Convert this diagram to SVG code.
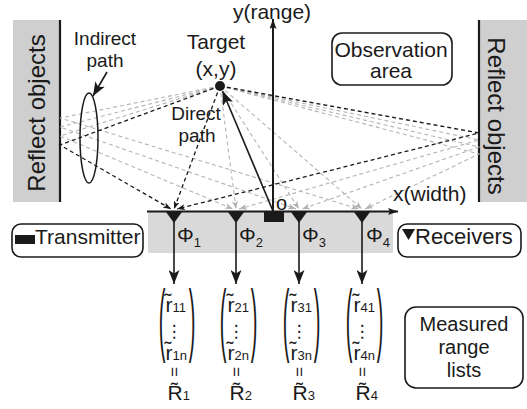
<svg xmlns="http://www.w3.org/2000/svg" width="527" height="409" viewBox="0 0 527 409">
  <defs>
    <style>
      text { font-family: "Liberation Sans", Arial, sans-serif; fill: #1a1a1a; }
      .t21 { font-size: 21px; }
      .t20 { font-size: 20px; }
      .t19 { font-size: 19px; }
      .mid { text-anchor: middle; }
      .sub { font-size: 13px; }
      .box { fill: #ffffff; stroke: #1a1a1a; stroke-width: 1.6; }
      .wall { fill: #cfcfcf; }
      .wline { stroke: #1a1a1a; stroke-width: 2.2; fill: none; }
      .dk { fill: none; stroke: #1a1a1a; stroke-width: 1.3; stroke-dasharray: 4 3; marker-end: url(#ahDark); }
      .gr { fill: none; stroke: #b4b4b4; stroke-width: 1.1; stroke-dasharray: 4 3; marker-end: url(#ahGrey); }
      .solid { fill: none; stroke: #1a1a1a; stroke-width: 1.6; }
      .paren { font-size: 20px; text-anchor: middle; }
      .col { font-size: 21px; }
      .dt { font-family: "DejaVu Sans", sans-serif; font-size: 17px; text-anchor: middle; }
      .eq { font-size: 17px; text-anchor: middle; }
    </style>
    <marker id="ahDark" viewBox="0 0 8 6" refX="8" refY="3" markerWidth="8" markerHeight="6" markerUnits="userSpaceOnUse" orient="auto">
      <path d="M0,0 L8,3 L0,6 L2,3 z" fill="#1a1a1a"/>
    </marker>
    <marker id="ahGrey" viewBox="0 0 8 6" refX="8" refY="3" markerWidth="8" markerHeight="6" markerUnits="userSpaceOnUse" orient="auto">
      <path d="M0,0 L8,3 L0,6 L2,3 z" fill="#b4b4b4"/>
    </marker>
    <marker id="ahBig" viewBox="0 0 14 11" refX="14" refY="5.5" markerWidth="14" markerHeight="11" markerUnits="userSpaceOnUse" orient="auto">
      <path d="M0,0 L14,5.5 L0,11 L3.5,5.5 z" fill="#1a1a1a"/>
    </marker>
    <marker id="ahAxis" viewBox="0 0 10 7" refX="10" refY="3.5" markerWidth="10" markerHeight="7" markerUnits="userSpaceOnUse" orient="auto">
      <path d="M0,0 L10,3.5 L0,7 L2,3.5 z" fill="#1a1a1a"/>
    </marker>
  </defs>

  <rect width="527" height="409" fill="#ffffff"/>

  <!-- reflecting walls -->
  <g id="wall-left">
    <rect class="wall" x="13" y="20" width="47" height="182"/>
    <line class="wline" x1="60" y1="20" x2="60" y2="202"/>
    <text class="mid" font-size="24" transform="translate(45,113) rotate(-90)">Reflect objects</text>
  </g>
  <g id="wall-right">
    <rect class="wall" x="479" y="20" width="48" height="182"/>
    <line class="wline" x1="479" y1="20" x2="479" y2="202"/>
    <text class="mid" font-size="24" transform="translate(488,116) rotate(90)">Reflect objects</text>
  </g>

  <!-- sensor array band -->
  <g id="array-band">
    <rect x="148" y="212" width="245" height="41" fill="#d9d9d9"/>
  </g>

  <!-- propagation paths and axes -->
  <g id="connectors">
    <!-- receivers 2..4 (grey) -->
    <polyline class="gr" points="220,86 236,209"/>
    <polyline class="gr" points="220,86 60,136 233,209"/>
    <polyline class="gr" points="220,86 479,140 239,209"/>
    <polyline class="gr" points="220,86 299,209"/>
    <polyline class="gr" points="220,86 60,127 296,209"/>
    <polyline class="gr" points="220,86 479,147 302,209"/>
    <polyline class="gr" points="220,86 362,209"/>
    <polyline class="gr" points="220,86 60,118 359,209"/>
    <polyline class="gr" points="220,86 479,154 365,209"/>
    <!-- receiver 1 (black) -->
    <polyline class="dk" points="220,86 174,209"/>
    <polyline class="dk" points="220,86 60,145 171,209"/>
    <polyline class="dk" points="220,86 479,133 177,209"/>
    <!-- axes -->
    <line x1="273" y1="212" x2="273" y2="19" stroke="#1a1a1a" stroke-width="2" marker-end="url(#ahAxis)"/>
    <line x1="147" y1="211.5" x2="398" y2="211.5" stroke="#1a1a1a" stroke-width="2" marker-end="url(#ahAxis)"/>
    <!-- origin to target -->
    <line class="solid" x1="273" y1="211" x2="222.5" y2="91" marker-end="url(#ahBig)"/>
    <!-- indirect path pointer -->
    <line class="solid" x1="107" y1="72" x2="93" y2="96" marker-end="url(#ahBig)"/>
    <!-- receiver outputs -->
    <line class="solid" x1="174" y1="213" x2="174" y2="284" marker-end="url(#ahBig)"/>
    <line class="solid" x1="236" y1="213" x2="236" y2="284" marker-end="url(#ahBig)"/>
    <line class="solid" x1="299" y1="213" x2="299" y2="284" marker-end="url(#ahBig)"/>
    <line class="solid" x1="362" y1="213" x2="362" y2="284" marker-end="url(#ahBig)"/>
  </g>

  <!-- axis labels -->
  <g id="axis-labels">
    <text class="t21 mid" x="272" y="19">y(range)</text>
    <text class="t21" x="393" y="201">x(width)</text>
    <text class="t20" x="276" y="210">o</text>
  </g>

  <!-- target -->
  <g id="target">
    <circle cx="220" cy="86" r="5" fill="#1a1a1a"/>
    <text class="t21 mid" x="216" y="49">Target</text>
    <text class="t21 mid" x="216" y="76">(x,y)</text>
  </g>

  <!-- path annotations -->
  <g id="indirect-path">
    <ellipse cx="89" cy="138" rx="9" ry="45" fill="none" stroke="#1a1a1a" stroke-width="1.5"/>
    <text class="t19 mid" x="105" y="45">Indirect</text>
    <text class="t19 mid" x="105" y="66.5">path</text>
  </g>
  <g id="direct-path">
    <text class="t19 mid" x="196" y="120">Direct</text>
    <text class="t19 mid" x="197" y="141.5">path</text>
  </g>

  <g id="observation-area">
    <rect class="box" x="332" y="33" width="120" height="52" rx="10"/>
    <text class="t21 mid" x="391" y="57">Observation</text>
    <text class="t21 mid" x="391" y="78">area</text>
  </g>

  <!-- transmitter and receivers on the array -->
  <g id="transmitter">
    <rect x="264" y="212" width="20" height="10" fill="#1a1a1a"/>
  </g>
  <g id="receivers">
    <polygon points="166,212 182,212 174,223" fill="#1a1a1a"/>
    <polygon points="228,212 244,212 236,223" fill="#1a1a1a"/>
    <polygon points="291,212 307,212 299,223" fill="#1a1a1a"/>
    <polygon points="354,212 370,212 362,223" fill="#1a1a1a"/>
    <text class="t21" x="177" y="242">Φ<tspan class="sub" dy="5">1</tspan></text>
    <text class="t21" x="239" y="242">Φ<tspan class="sub" dy="5">2</tspan></text>
    <text class="t21" x="302" y="242">Φ<tspan class="sub" dy="5">3</tspan></text>
    <text class="t21" x="366" y="242">Φ<tspan class="sub" dy="5">4</tspan></text>
  </g>

  <!-- legend boxes -->
  <g id="legend-transmitter">
    <rect class="box" x="12" y="224" width="131" height="33" rx="9"/>
    <rect x="15" y="235" width="20" height="9" fill="#1a1a1a"/>
    <text class="t21" x="35" y="244">Transmitter</text>
  </g>
  <g id="legend-receivers">
    <rect class="box" x="398" y="224" width="123" height="33" rx="9"/>
    <polygon points="402,229 415,229 408.5,240" fill="#1a1a1a"/>
    <text font-size="22" x="415" y="244">Receivers</text>
  </g>
  <g id="legend-lists">
    <rect class="box" x="405" y="307" width="118" height="81" rx="11"/>
    <text class="t20 mid" x="464" y="331">Measured</text>
    <text class="t20 mid" x="464" y="354">range</text>
    <text class="t20 mid" x="464" y="377">lists</text>
  </g>

  <!-- measured range vectors: column of ranges, then the list symbol -->
  <g id="list-1" transform="translate(174,0)">
    <text class="paren" transform="translate(-12,325.5) scale(1,4)" y="5.2">(</text>
    <text class="paren" transform="translate(18,325.5) scale(1,4)" y="5.2">)</text>
    <text class="col" x="-8.5" y="312">r̃<tspan class="sub">11</tspan></text>
    <text class="dt" x="0" y="337">⋮</text>
    <text class="col" x="-8.5" y="360">r̃<tspan class="sub">1n</tspan></text>
    <text class="eq" transform="translate(1,372) rotate(90)" y="6">=</text>
    <text class="col" x="-6.5" y="400">R̃<tspan class="sub">1</tspan></text>
  </g>
  <g id="list-2" transform="translate(236,0)">
    <text class="paren" transform="translate(-13,325.5) scale(1,4)" y="5.2">(</text>
    <text class="paren" transform="translate(18,325.5) scale(1,4)" y="5.2">)</text>
    <text class="col" x="-8.5" y="312">r̃<tspan class="sub">21</tspan></text>
    <text class="dt" x="0" y="337">⋮</text>
    <text class="col" x="-8.5" y="360">r̃<tspan class="sub">2n</tspan></text>
    <text class="eq" transform="translate(1,372) rotate(90)" y="6">=</text>
    <text class="col" x="-6.5" y="400">R̃<tspan class="sub">2</tspan></text>
  </g>
  <g id="list-3" transform="translate(299,0)">
    <text class="paren" transform="translate(-13,325.5) scale(1,4)" y="5.2">(</text>
    <text class="paren" transform="translate(18,325.5) scale(1,4)" y="5.2">)</text>
    <text class="col" x="-8.5" y="312">r̃<tspan class="sub">31</tspan></text>
    <text class="dt" x="0" y="337">⋮</text>
    <text class="col" x="-8.5" y="360">r̃<tspan class="sub">3n</tspan></text>
    <text class="eq" transform="translate(1,372) rotate(90)" y="6">=</text>
    <text class="col" x="-6.5" y="400">R̃<tspan class="sub">3</tspan></text>
  </g>
  <g id="list-4" transform="translate(362,0)">
    <text class="paren" transform="translate(-13,325.5) scale(1,4)" y="5.2">(</text>
    <text class="paren" transform="translate(18,325.5) scale(1,4)" y="5.2">)</text>
    <text class="col" x="-8.5" y="312">r̃<tspan class="sub">41</tspan></text>
    <text class="dt" x="0" y="337">⋮</text>
    <text class="col" x="-8.5" y="360">r̃<tspan class="sub">4n</tspan></text>
    <text class="eq" transform="translate(1,372) rotate(90)" y="6">=</text>
    <text class="col" x="-6.5" y="400">R̃<tspan class="sub">4</tspan></text>
  </g>
</svg>
